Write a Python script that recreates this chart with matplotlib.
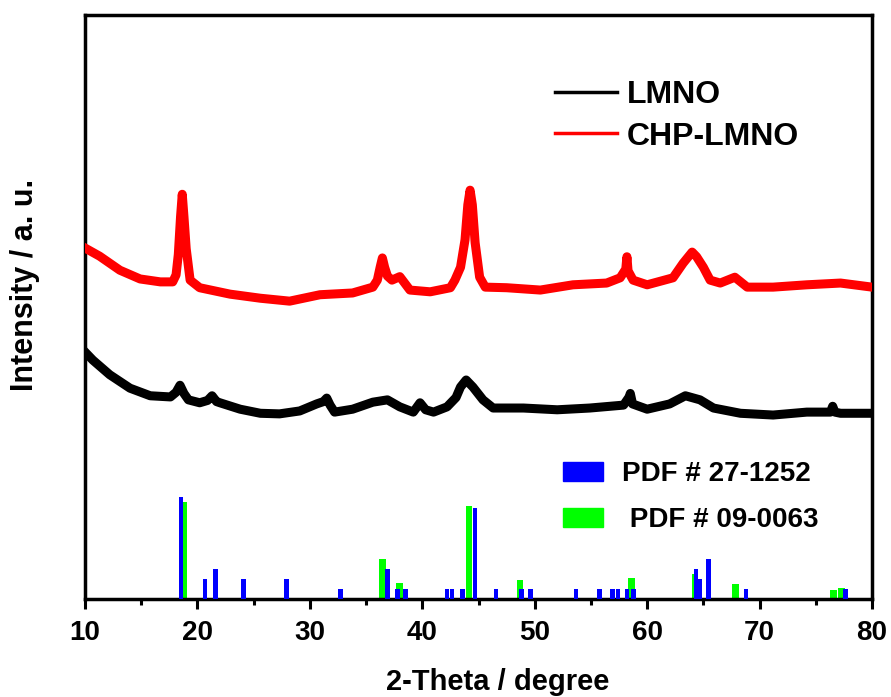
import matplotlib
matplotlib.use("Agg")
import matplotlib.pyplot as plt
from matplotlib.lines import Line2D
from matplotlib.patches import Patch

# XRD patterns (2-theta in degree, intensity in a.u.)
lmno_2theta = [10.0, 10.7, 12.2, 14.0, 15.8, 17.6, 18.1, 18.45, 18.8, 19.2, 20.2, 20.9, 21.3,
               21.7, 22.0, 23.8, 25.6, 27.3, 29.1, 30.6, 31.2, 31.5, 31.8, 32.2, 33.8, 35.6,
               36.9, 38.0, 39.2, 39.8, 40.3, 41.0, 42.2, 43.0, 43.4, 43.9, 44.5, 45.4, 46.3,
               49.0, 52.0, 54.9, 57.9, 58.4, 58.5, 58.7, 60.0, 62.0, 63.4, 64.7, 65.9, 68.3,
               71.2, 74.2, 76.3, 76.5, 76.7, 77.2, 80.0]
lmno_int = [42.3, 40.9, 38.4, 36.1, 34.8, 34.6, 35.4, 36.6, 35.2, 34.1, 33.6, 34.0, 34.8,
            33.8, 33.6, 32.5, 31.8, 31.7, 32.2, 33.4, 33.8, 34.4, 33.2, 32.0, 32.5, 33.7,
            34.1, 32.9, 32.0, 33.6, 32.4, 32.0, 32.9, 34.5, 36.3, 37.5, 36.3, 34.1, 32.7,
            32.7, 32.4, 32.7, 33.2, 34.6, 35.2, 33.4, 32.5, 33.4, 34.8, 34.1, 32.7, 31.8,
            31.5, 32.0, 32.0, 33.0, 32.0, 31.8, 31.8]

chp_2theta = [10.0, 11.3, 13.1, 14.9, 16.7, 17.8, 18.1, 18.3, 18.5, 18.65, 18.8, 19.0, 19.35,
              20.2, 22.9, 25.6, 28.2, 30.9, 33.8, 35.6, 36.0, 36.25, 36.45, 36.65, 36.9, 37.3,
              38.0, 38.9, 40.7, 42.5, 42.9, 43.4, 43.8, 44.05, 44.25, 44.45, 44.7, 45.1, 45.6,
              47.5, 50.5, 53.4, 56.4, 57.6, 58.1, 58.2, 58.3, 58.75, 60.0, 62.3, 63.2, 64.0,
              64.4, 65.0, 65.6, 66.5, 67.8, 68.9, 71.2, 74.2, 77.2, 80.0]
chp_int = [60.1, 58.7, 56.3, 54.8, 54.3, 54.3, 55.5, 59.0, 65.5, 69.3, 65.5, 60.0, 54.6,
           53.3, 52.2, 51.5, 51.0, 52.1, 52.4, 53.4, 54.6, 56.8, 58.4, 56.8, 55.3, 54.6,
           55.2, 52.9, 52.6, 53.3, 54.6, 56.8, 61.5, 67.5, 70.0, 67.5, 61.0, 55.1, 53.4,
           53.3, 52.9, 53.8, 54.1, 55.0, 56.5, 58.6, 56.2, 54.6, 53.8, 55.0, 57.5, 59.4,
           58.6, 56.8, 54.6, 54.1, 55.1, 53.4, 53.4, 53.8, 54.1, 53.4]

# reference line positions and relative heights
pdf_27_1252_pos = [18.55, 20.67, 21.6, 24.1, 27.9, 32.7, 36.9, 37.8, 38.5, 42.2, 42.65, 43.6,
                   44.7, 46.55, 48.8, 49.6, 53.67, 55.75, 56.9, 57.4, 58.2, 58.8, 64.35,
                   64.7, 65.45, 68.8, 77.65]
pdf_27_1252_h = [17.5, 3.4, 5.1, 3.4, 3.4, 1.7, 5.1, 1.7, 1.7, 1.7, 1.7, 1.7,
                 15.6, 1.7, 1.7, 1.7, 1.7, 1.7, 1.7, 1.7, 1.7, 1.7, 5.1,
                 3.4, 6.8, 1.7, 1.7]
pdf_09_0063_pos = [18.75, 36.45, 37.95, 44.15, 48.7, 58.6, 64.26, 67.87, 76.56, 77.3]
pdf_09_0063_h = [16.6, 6.8, 2.7, 15.9, 3.25, 3.6, 4.3, 2.6, 1.5, 1.9]

bold_font = ["Liberation Sans", "DejaVu Sans"]

fig = plt.figure(figsize=(8.91, 6.97), dpi=100)
ax = fig.add_axes([0.0954, 0.1406, 0.8833, 0.8379])

ax.bar(pdf_09_0063_pos, pdf_09_0063_h, width=0.6, color="#00ff00", zorder=2)
ax.bar(pdf_27_1252_pos, pdf_27_1252_h, width=0.42, color="#0000ff", zorder=3)

ax.plot(lmno_2theta, lmno_int, color="black", lw=6.5, solid_joinstyle="round", zorder=4)
ax.plot(chp_2theta, chp_int, color="#ff0000", lw=6.5, solid_joinstyle="round", zorder=4)

ax.set_xlim(10, 80)
ax.set_ylim(0, 100)
ax.set_xticks(range(10, 81, 10))
ax.set_xticks(range(15, 80, 10), minor=True)
ax.set_yticks([])
ax.tick_params(axis="x", which="major", direction="out", length=7, width=2.2, pad=8)
ax.tick_params(axis="x", which="minor", direction="out", length=4, width=2.2)
for lab in ax.get_xticklabels():
    lab.set_fontfamily(bold_font)
    lab.set_fontweight("bold")
    lab.set_fontsize(20)
for sp in ax.spines.values():
    sp.set_linewidth(2.5)

ax.set_xlabel("2-Theta / degree", fontsize=21, fontweight="bold", family=bold_font)
ax.set_ylabel("Intensity / a. u.", fontsize=22, fontweight="bold", family=bold_font)
ax.xaxis.set_label_coords(0.524, -0.118)
ax.yaxis.set_label_coords(-0.057, 0.538)

line_handles = [Line2D([], [], color="black", lw=2.5), Line2D([], [], color="#ff0000", lw=2.5)]
leg1 = ax.legend(line_handles, ["LMNO", "CHP-LMNO"], loc="upper left",
                 bbox_to_anchor=(0.597, 0.888), frameon=False, handlelength=1.95,
                 handletextpad=0.3, labelspacing=0.35, borderpad=0, borderaxespad=0,
                 prop={"family": bold_font, "weight": "bold", "size": 23})
ax.add_artist(leg1)

bar_handles = [Patch(color="#0000ff"), Patch(color="#00ff00")]
ax.legend(bar_handles, ["PDF # 27-1252", " PDF # 09-0063"], loc="upper left",
          bbox_to_anchor=(0.607, 0.236), frameon=False, handlelength=1.45, handleheight=0.72,
          handletextpad=0.7, labelspacing=0.72, borderpad=0, borderaxespad=0,
          prop={"family": bold_font, "weight": "bold", "size": 20})

fig.savefig("out.png", dpi=100)
